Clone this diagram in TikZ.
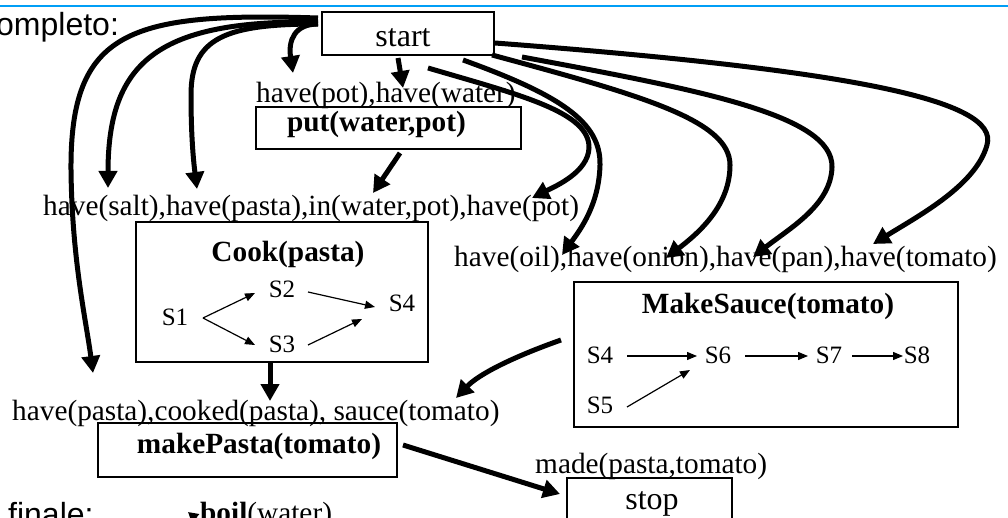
\documentclass[tikz,border=0pt]{standalone}
\usepackage{fontspec}
\setmainfont{Liberation Serif}
\setsansfont{Liberation Sans}
\usetikzlibrary{arrows.meta}
\definecolor{topline}{RGB}{0,158,246}

\begin{document}
\begin{tikzpicture}[x=1pt,y=-1pt,
  lbl/.style={inner sep=0pt, anchor=base west, font=\fontsize{29.3}{34}\selectfont},
  ttl/.style={inner sep=0pt, anchor=base, font=\fontsize{29.3}{34}\selectfont\bfseries},
  st/.style={inner sep=0pt, anchor=base, font=\fontsize{25}{30}\selectfont},
  term/.style={inner sep=0pt, anchor=base, font=\fontsize{32}{38}\selectfont},
  side/.style={inner sep=0pt, anchor=base west, font=\sffamily\fontsize{32}{38}\selectfont},
  box/.style={draw, line width=1.3pt, inner sep=0pt, rectangle},
  bigarr/.style={line width=5pt, -{Triangle[length=17pt,width=18pt]}},
  smallarr/.style={line width=1.2pt, -{Triangle[length=10pt,width=8pt]}}
]
\useasboundingbox (0,0) rectangle (1008,518);
\clip (0,0) rectangle (1008,518);

% header rule
\draw[topline, line width=2pt] (0,6) -- (1008,6);

% side captions
\node[side] (capA) at (-4,36) {ompleto:};
\node[side] (capB) at (8,525) {finale:};

% boxes
\node[box, minimum width=172pt, minimum height=43pt] (startbox) at (408,33.5) {};
\node[box, minimum width=265pt, minimum height=42pt] (putbox) at (388.5,128) {};
\node[box, minimum width=292pt, minimum height=140pt] (cookbox) at (282,292) {};
\node[box, minimum width=299pt, minimum height=54pt] (pastabox) at (247.5,450) {};
\node[box, minimum width=384pt, minimum height=145pt] (saucebox) at (766,354.5) {};
\node[box, minimum width=165pt, minimum height=62pt] (stopbox) at (649.5,509) {};

% box texts
\node[term] (start) at (403,47) {start};
\node[term] (stop) at (652,509) {stop};
\node[ttl] (put) at (376.5,132) {put(water,pot)};
\node[ttl] (cook) at (288,262) {Cook(pasta)};
\node[ttl] (sauce) at (768,313) {MakeSauce(tomato)};
\node[ttl] (pasta) at (259,453) {makePasta(tomato)};

% preconditions
\node[lbl] (preput) at (256,103) {have(pot),have(water)};
\node[lbl] (precook) at (43,216) {have(salt),have(pasta),in(water,pot),have(pot)};
\node[lbl] (presauce) at (454,267) {have(oil),have(onion),have(pan),have(tomato)};
\node[lbl] (prepasta) at (12,420) {have(pasta),cooked(pasta), sauce(tomato)};
\node[lbl] (prestop) at (535,473) {made(pasta,tomato)};
\node[lbl] (boil) at (200,522) {\textbf{boil}(water)};

% steps inside Cook(pasta)
\node[st] (c1) at (175,325) {S1};
\node[st] (c2) at (282,298) {S2};
\node[st] (c3) at (282,352) {S3};
\node[st] (c4) at (402,312) {S4};

% steps inside MakeSauce(tomato)
\node[st] (m4) at (600,363) {S4};
\node[st] (m6) at (718,363) {S6};
\node[st] (m7) at (829,363) {S7};
\node[st] (m8) at (917,363) {S8};
\node[st] (m5) at (600,413) {S5};

% connector end points
\coordinate (c1o) at (203,318);
\coordinate (c2i) at (255,293);
\coordinate (c3i) at (255,345);
\coordinate (c2o) at (308,292);
\coordinate (c3o) at (308,345);
\coordinate (c4a) at (375,307);
\coordinate (c4b) at (362,319);
\coordinate (m4o) at (627,356);
\coordinate (m6i) at (697,356);
\coordinate (m6o) at (745,356);
\coordinate (m7i) at (808,356);
\coordinate (m7o) at (852,356);
\coordinate (m8i) at (903,356);
\coordinate (m5o) at (627,407);
\coordinate (m6b) at (690,370);

% ordering inside the abstract steps
\draw[smallarr] (c1o) -- (c2i);
\draw[smallarr] (c1o) -- (c3i);
\draw[smallarr] (c2o) -- (c4a);
\draw[smallarr] (c3o) -- (c4b);
\draw[smallarr] (m4o) -- (m6i);
\draw[smallarr] (m6o) -- (m7i);
\draw[smallarr] (m7o) -- (m8i);
\draw[smallarr] (m5o) -- (m6b);

% causal links leaving start (left side)
\coordinate (sl1) at (318,24);
\coordinate (sl2) at (318,22);
\coordinate (sl3) at (318,24);
\coordinate (sl4) at (318,18);
\coordinate (t1) at (293,73);
\coordinate (t2) at (108,188);
\coordinate (t3) at (197,189);
\coordinate (t4) at (93,373);
\draw[bigarr] (sl1) .. controls (295,24) and (288,40) .. (t1);
\draw[bigarr] (sl2) .. controls (160,20) and (108,60) .. (t2);
\draw[bigarr] (sl3) .. controls (225,24) and (191,38) .. (191,95)
                    .. controls (191,140) and (194,165) .. (t3);
\draw[bigarr] (sl4) .. controls (130,12) and (70,30) .. (71,170)
                    .. controls (72,260) and (86,320) .. (t4);

% causal links leaving start (right side)
\coordinate (sr5) at (428,68);
\coordinate (sr6) at (463,60);
\coordinate (sr7) at (492,55);
\coordinate (sr8) at (522,57);
\coordinate (sr9) at (495,43);
\coordinate (t5) at (532,198);
\coordinate (t6) at (562,255);
\coordinate (t7) at (666,258);
\coordinate (t8) at (753,257);
\coordinate (t9) at (873,244);
\draw[bigarr] (sr5) .. controls (520,95) and (590,112) .. (589,148)
                    .. controls (588,172) and (556,186) .. (t5);
\draw[bigarr] (sr6) .. controls (560,95) and (601,122) .. (600,165)
                    .. controls (599,205) and (580,230) .. (t6);
\draw[bigarr] (sr7) .. controls (640,95) and (730,120) .. (730,165)
                    .. controls (730,205) and (700,232) .. (t7);
\draw[bigarr] (sr8) .. controls (700,90) and (833,115) .. (832,167)
                    .. controls (831,205) and (790,228) .. (t8);
\draw[bigarr] (sr9) .. controls (850,70) and (1000,100) .. (987,145)
                    .. controls (976,185) and (920,215) .. (t9);

% straight causal links
\coordinate (b1s) at (398,58);
\coordinate (b1t) at (403,88);
\coordinate (b2s) at (400,153);
\coordinate (b2t) at (373,193);
\coordinate (b3s) at (270,362);
\coordinate (b3t) at (270,401);
\coordinate (b4s) at (403,445);
\coordinate (b4t) at (560,494);
\coordinate (b5s) at (561,340);
\coordinate (b5t) at (456,398);
\coordinate (b6s) at (202,524);
\coordinate (b6t) at (188,512);
\draw[bigarr] (b1s) -- (b1t);
\draw[bigarr] (b2s) -- (b2t);
\draw[bigarr] (b3s) -- (b3t);
\draw[bigarr] (b4s) -- (b4t);
\draw[bigarr] (b5s) .. controls (510,358) and (478,375) .. (b5t);
\draw[line width=3pt, -{Triangle[length=10pt,width=11pt]}] (b6s) -- (b6t);
\end{tikzpicture}
\end{document}
